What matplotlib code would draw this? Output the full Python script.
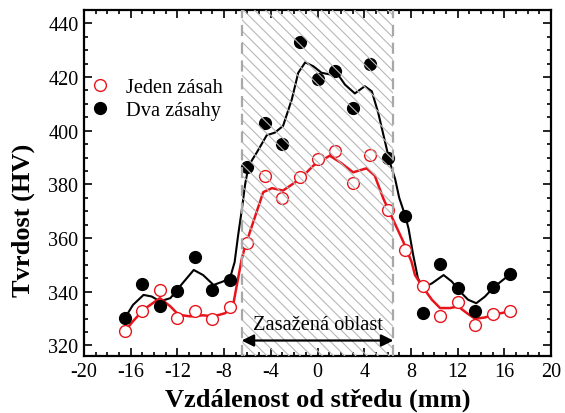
import matplotlib
matplotlib.use('Agg')
import matplotlib.pyplot as plt
from matplotlib.ticker import MultipleLocator

plt.rcParams['font.family'] = ['Liberation Serif', 'DejaVu Serif']
plt.rcParams['axes.unicode_minus'] = False
plt.rcParams['hatch.linewidth'] = 0.8

# measured hardness points
pos = [-16.5, -15, -13.5, -12, -10.5, -9, -7.5, -6, -4.5, -3, -1.5, 0,
       1.5, 3, 4.5, 6, 7.5, 9, 10.5, 12, 13.5, 15, 16.5]
jeden = [325.3, 332.7, 340.6, 330.1, 332.7, 329.7, 334.4, 358.2, 383.0, 375.1, 382.9, 389.3,
         392.3, 380.6, 391.0, 370.4, 355.5, 342.1, 330.8, 336.3, 327.7, 331.5, 332.7]
dva = [330.2, 342.8, 334.5, 340.2, 352.8, 340.6, 344.4, 386.5, 402.9, 395.0, 432.9, 419.3,
       422.3, 408.5, 424.8, 390.0, 368.2, 332.0, 350.5, 341.3, 332.8, 341.7, 346.6]

# smoothed trend lines
dva_fit_x = [-16.5, -15.8, -14.9, -14.2, -13.5, -12.6, -11.8, -10.6, -9.8, -8.9, -8.1, -7.5,
             -7.1, -6.8, -6.5, -6.2, -5.9, -5.2, -4.35, -3.65, -2.95, -2.2, -1.65, -1.05,
             -0.35, 0.35, 1.05, 1.65, 2.35, 3.2, 4.05, 4.65, 5.2, 5.8, 6.2, 6.65, 7.0, 7.5,
             7.8, 8.2, 8.6, 9.05, 9.8, 10.8, 11.5, 12.2, 12.9, 13.6, 14.35, 15.05, 16.5]
dva_fit_y = [330.2, 335.1, 338.8, 338.2, 336.4, 337.6, 341.9, 348.1, 346.2, 342.5, 343.8, 345.0,
             351.0, 361.0, 370.0, 380.0, 387.0, 391.9, 398.3, 399.3, 401.8, 411.7, 421.6, 425.5,
             424.0, 421.6, 421.0, 421.6, 417.2, 413.9, 416.6, 414.7, 406.7, 395.6, 388.2, 382.0,
             375.0, 368.5, 363.5, 353.6, 345.0, 341.5, 343.1, 346.2, 343.8, 340.1, 337.0, 335.7,
             338.2, 341.5, 346.5]
jeden_fit_x = [-16.5, -15.8, -14.9, -13.5, -12.6, -11.9, -10.9, -9.8, -8.9, -7.9, -7.2, -6.8,
               -6.5, -6.2, -5.5, -4.65, -3.9, -2.95, -1.5, -0.35, 1.05, 1.95, 3.05, 4.2, 4.9,
               5.65, 6.5, 7.35, 8.05, 8.35, 9.05, 9.8, 10.5, 11.35, 12.05, 12.8, 13.5, 14.35,
               15.05, 16.5]
jeden_fit_y = [325.3, 329.0, 333.3, 337.6, 334.5, 331.4, 330.8, 331.2, 330.8, 332.0, 335.7, 345.0,
               352.0, 357.0, 366.0, 377.1, 378.6, 377.7, 382.0, 387.0, 390.7, 388.2, 384.5, 386.0,
               383.3, 374.6, 366.6, 358.6, 351.2, 346.2, 341.5, 337.0, 333.9, 333.9, 334.5, 332.0,
               329.9, 330.4, 331.4, 332.7]

zone = (-6.5, 6.5)

fig = plt.figure(figsize=(5.65, 4.14), dpi=100)
ax = fig.add_axes([0.1487, 0.1375, 0.8265, 0.8359])

ax.plot(dva_fit_x, dva_fit_y, color='black', lw=1.5, zorder=2)
ax.plot(jeden_fit_x, jeden_fit_y, color='#e8141b', lw=1.8, zorder=2)
ax.plot(pos, dva, 'o', color='black', ms=8.5, zorder=3, label='Dva zásahy')
ax.plot(pos, jeden, 'o', mfc='white', mec='#e8141b', mew=1.0, ms=8.5, zorder=3,
        label='Jeden zásah')

# hatched affected zone
ax.axvspan(zone[0], zone[1], facecolor='none', edgecolor='#b8b8b8', hatch='\\\\\\',
           lw=0, zorder=4)
for xv in zone:
    ax.axvline(xv, color='#a8a8a8', lw=1.6, ls=(0, (5, 3)), zorder=4)

ax.annotate('', xy=(zone[0], 321.8), xytext=(zone[1], 321.8),
            arrowprops=dict(arrowstyle='<|-|>', color='black', lw=1.6,
                            mutation_scale=18, shrinkA=0, shrinkB=0), zorder=5)
ax.text(0, 327.8, 'Zasažená oblast', ha='center', va='center', fontsize=14.7, zorder=5)

ax.set_xlim(-20, 20)
ax.set_ylim(316, 445)
ax.xaxis.set_major_locator(MultipleLocator(4))
ax.xaxis.set_minor_locator(MultipleLocator(1))
ax.yaxis.set_major_locator(MultipleLocator(20))
ax.yaxis.set_minor_locator(MultipleLocator(5))
ax.tick_params(which='both', direction='in', top=True, right=True, width=1.2, labelsize=14.5)
ax.tick_params(which='major', length=6, pad=4)
ax.tick_params(which='minor', length=3)
for s in ax.spines.values():
    s.set_linewidth(1.6)

ax.set_xlabel('Vzdálenost od středu (mm)', fontsize=19, fontweight='bold')
ax.set_ylabel('Tvrdost (HV)', fontsize=19, fontweight='bold')
ax.xaxis.set_label_coords(0.5, -0.09)
ax.yaxis.set_label_coords(-0.105, 0.395)

handles, labels = ax.get_legend_handles_labels()
ax.legend(handles[::-1], labels[::-1], loc='center left', bbox_to_anchor=(0.012, 0.743),
          frameon=False, fontsize=14.7, borderpad=0, borderaxespad=0, handlelength=1.0,
          handletextpad=0.8, labelspacing=0.15)

fig.savefig('out.png', dpi=100)
